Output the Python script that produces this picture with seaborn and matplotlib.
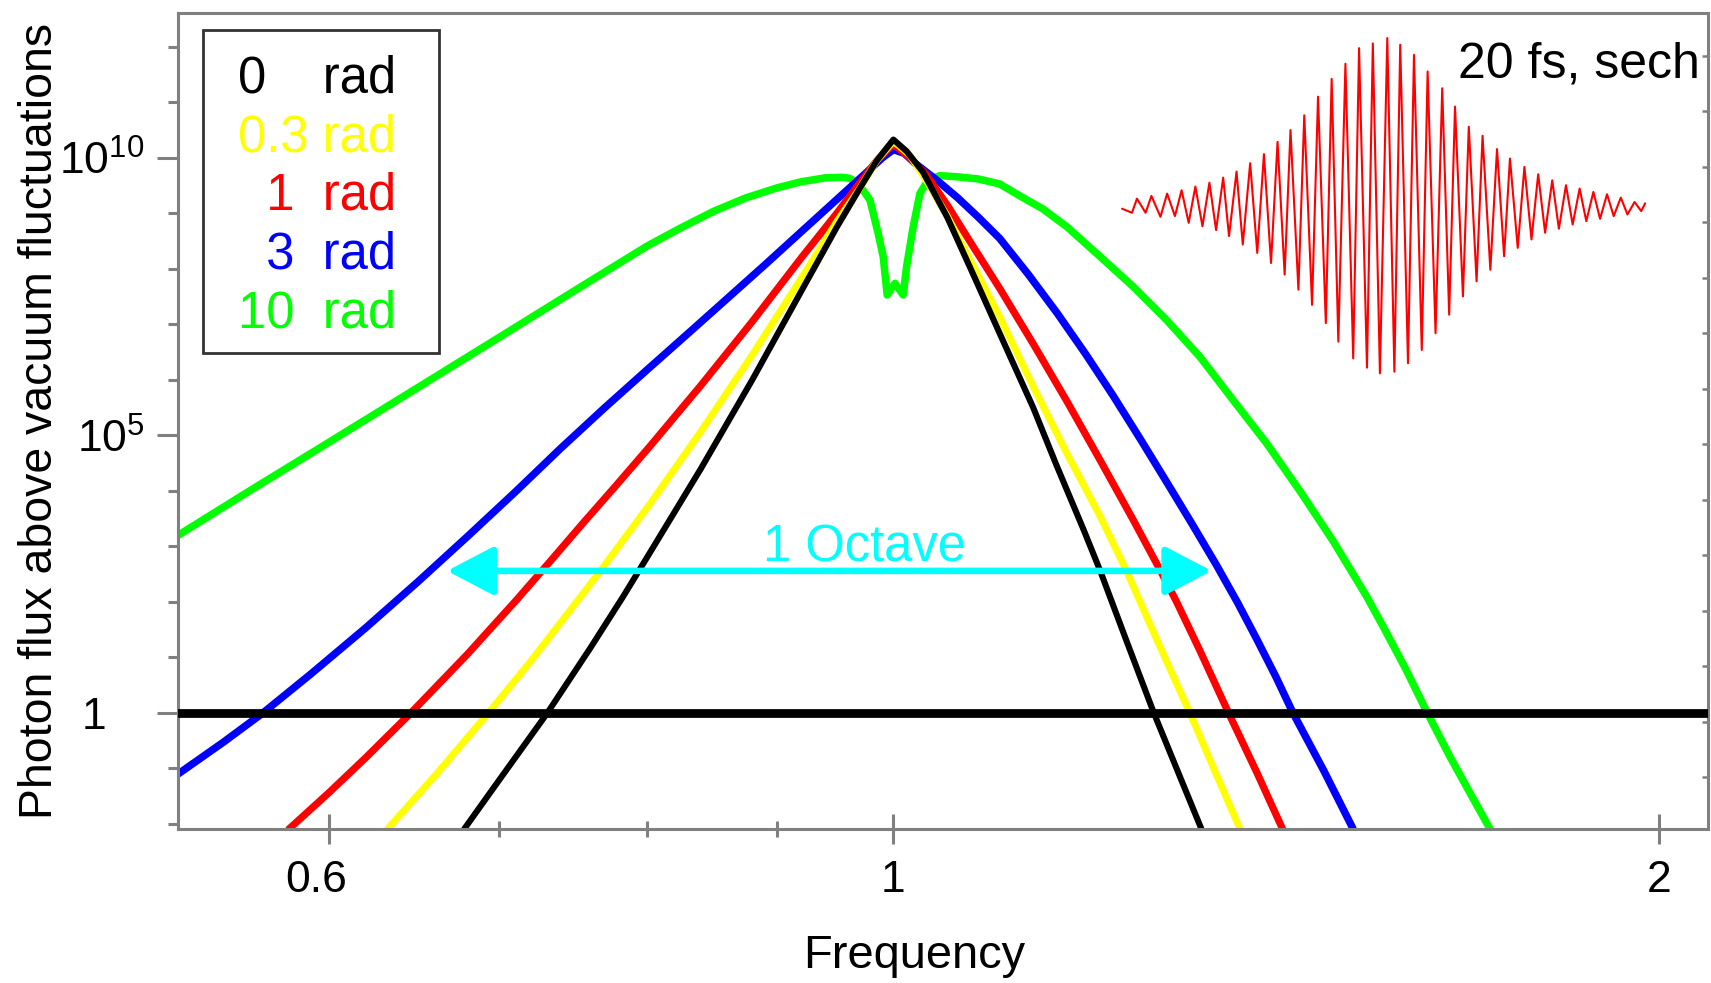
import numpy as np
import pandas as pd
import matplotlib
matplotlib.use("Agg")
import matplotlib.pyplot as plt
import matplotlib.transforms as mtransforms
import seaborn as sns
from matplotlib.lines import Line2D
from matplotlib.ticker import FixedLocator, FixedFormatter, NullFormatter, NullLocator, LogLocator

# ---------------- data ----------------
# frequency (normalised) and log10 of photon flux above vacuum fluctuations
freq_10rad = [0.5232, 0.56, 0.60, 0.65, 0.70, 0.75, 0.80, 0.825, 0.85, 0.875,
              0.90, 0.92, 0.94, 0.955, 0.9614, 0.9687, 0.979, 0.9863, 0.9908, 0.9944,
              1.0014, 1.0089, 1.012, 1.0181, 1.0243, 1.032, 1.043, 1.059, 1.08, 1.101,
              1.1247, 1.145, 1.170, 1.206, 1.2425, 1.2806, 1.3197, 1.360, 1.402, 1.445,
              1.489, 1.535, 1.558, 1.59, 1.621, 1.655, 1.687, 1.717]
lgflux_10rad = [3.2, 4.04, 4.88, 5.86, 6.77, 7.62, 8.41, 8.74, 9.04, 9.28,
                9.46, 9.57, 9.64, 9.65, 9.63, 9.54, 9.24, 8.64, 8.22, 7.53,
                7.74, 7.53, 8.04, 8.76, 9.36, 9.60, 9.68, 9.66, 9.62, 9.53,
                9.28, 9.08, 8.76, 8.22, 7.68, 7.08, 6.42, 5.64, 4.86, 4.0,
                3.1, 2.1, 1.56, 0.8, 0.02, -0.78, -1.47, -2.1]

freq_3rad = [0.5232, 0.545, 0.565, 0.59, 0.62, 0.65, 0.68, 0.71, 0.74, 0.77,
             0.80, 0.83, 0.86, 0.89, 0.92, 0.95, 0.975, 0.99, 1.0, 1.01,
             1.02, 1.04, 1.06, 1.08, 1.101, 1.13, 1.16, 1.19, 1.22, 1.25,
             1.28, 1.31, 1.34, 1.366, 1.39, 1.414, 1.436, 1.477, 1.516]
lgflux_3rad = [-1.1, -0.53, 0.0, 0.7, 1.53, 2.36, 3.18, 3.98, 4.77, 5.5,
               6.18, 6.83, 7.46, 8.07, 8.67, 9.25, 9.72, 10.0, 10.15, 10.08,
               9.9, 9.6, 9.28, 8.93, 8.55, 7.9, 7.2, 6.47, 5.72, 4.95,
               4.18, 3.42, 2.66, 1.98, 1.32, 0.65, 0.0, -1.05, -2.08]

freq_1rad = [0.5785, 0.60, 0.62, 0.646, 0.68, 0.711, 0.7325, 0.755, 0.778, 0.802,
             0.84, 0.88, 0.92, 0.95, 0.97, 0.985, 1.0, 1.015, 1.03, 1.05,
             1.075, 1.101, 1.135, 1.17, 1.206, 1.2425, 1.273, 1.2924, 1.32, 1.354,
             1.39, 1.4225]
lgflux_1rad = [-2.09, -1.43, -0.81, 0.0, 1.06, 2.04, 2.72, 3.42, 4.1, 4.8,
               5.9, 7.05, 8.2, 9.0, 9.55, 9.95, 10.25, 10.0, 9.7, 9.15,
               8.4, 7.65, 6.65, 5.62, 4.55, 3.48, 2.58, 2.0, 1.12, 0.02,
               -1.08, -2.09]

freq_03rad = [0.6325, 0.66, 0.693, 0.72, 0.7506, 0.767, 0.802, 0.84, 0.88, 0.92,
              0.95, 0.97, 0.985, 1.0, 1.015, 1.03, 1.05, 1.075, 1.101, 1.135,
              1.17, 1.206, 1.235, 1.27, 1.308, 1.338, 1.369]
lgflux_03rad = [-2.09, -1.14, 0.0, 0.93, 2.0, 2.56, 3.76, 5.07, 6.45, 7.83,
                8.85, 9.45, 9.95, 10.3, 10.05, 9.6, 8.95, 8.05, 7.14, 5.88,
                4.68, 3.54, 2.56, 1.3, 0.0, -1.05, -2.1]

freq_0rad = [0.678, 0.70, 0.731, 0.76, 0.783, 0.80, 0.84, 0.88, 0.92, 0.95,
             0.97, 0.985, 1.0, 1.012, 1.027, 1.05, 1.075, 1.101, 1.135, 1.159,
             1.188, 1.206, 1.235, 1.266, 1.295, 1.322]
lgflux_0rad = [-2.09, -1.2, 0.0, 1.17, 2.1, 2.8, 4.4, 6.0, 7.6, 8.75,
               9.45, 9.95, 10.33, 10.12, 9.75, 8.93, 7.9, 6.84, 5.5, 4.47,
               3.3, 2.56, 1.3, 0.0, -1.1, -2.1]

phase_labels = ["10 rad", "3 rad", "1 rad", "0.3 rad", "0 rad"]
phase_colors = ["#00ff00", "#0000ff", "#ff0000", "#ffff00", "#000000"]
phase_widths = [5.4, 5.4, 5.2, 5.0, 4.4]

legend_labels = ["0    rad", "0.3 rad", "  1  rad", "  3  rad", "10  rad"]
legend_colors = ["#000000", "#ffff00", "#ff0000", "#0000ff", "#00ff00"]

octave_lo, octave_hi, octave_level_lg = 0.6675, 1.334, 2.56

x_ticks = [0.6, 1, 2]
x_ticklabels = ["0.6", "1", "2"]
x_minor = [0.7, 0.8, 0.9]
y_ticks = [1.0, 1e5, 1e10]
y_ticklabels = ["1", "$10^{5}$", "$10^{10}$"]
y_minor_exp = [-2, -1, 1, 2, 3, 4, 6, 7, 8, 9, 11, 12]
right_scale_shift_lg = 0.16   # right-hand frame ticks sit 0.16 decade below the left ones

# inset pulse: extrema of the field (time in optical cycles, normalised field)
pulse_t = [-18.79, -18.08, -17.72, -17.10, -16.68, -16.03, -15.55, -14.99, -14.51, -14.00,
           -13.52, -13.01, -12.51, -12.03, -11.52, -11.10, -10.56, -10.11, -9.58, -9.07,
           -8.59, -8.08, -7.61, -7.10, -6.68, -6.11, -5.69, -5.13, -4.70, -4.14,
           -3.72, -3.24, -2.73, -2.17, -1.75, -1.18, -0.76, -0.25, 0.28, 0.79,
           1.21, 1.77, 2.20, 2.76, 3.18, 3.75, 4.23, 4.73, 5.15, 5.72,
           6.14, 6.70, 7.13, 7.69, 8.17, 8.68, 9.10, 9.66, 10.14, 10.65,
           11.13, 11.63, 12.14, 12.62, 13.13, 13.61, 14.11, 14.59, 15.10, 15.58,
           16.08, 16.56, 17.07, 17.55, 18.06, 18.54, 18.82]
pulse_e = [-0.016, -0.040, 0.044, -0.040, 0.060, -0.064, 0.074, -0.060, 0.094, -0.100,
           0.116, -0.120, 0.139, -0.143, 0.169, -0.179, 0.205, -0.229, 0.255, -0.279,
           0.309, -0.339, 0.382, -0.408, 0.452, -0.498, 0.540, -0.588, 0.651, -0.697,
           0.757, -0.807, 0.847, -0.907, 0.940, -0.962, 0.968, -0.996, 1.000, -0.986,
           0.960, -0.936, 0.900, -0.857, 0.801, -0.757, 0.701, -0.647, 0.592, -0.538,
           0.472, -0.448, 0.418, -0.379, 0.339, -0.299, 0.283, -0.249, 0.233, -0.199,
           0.189, -0.159, 0.153, -0.135, 0.124, -0.110, 0.104, -0.090, 0.084, -0.076,
           0.070, -0.060, 0.050, -0.050, 0.024, -0.030, 0.016]

# ---------------- build long table ----------------
series = [
    ("10 rad", freq_10rad, lgflux_10rad),
    ("3 rad", freq_3rad, lgflux_3rad),
    ("1 rad", freq_1rad, lgflux_1rad),
    ("0.3 rad", freq_03rad, lgflux_03rad),
    ("0 rad", freq_0rad, lgflux_0rad),
]
frames = []
for name, f, lg in series:
    frames.append(pd.DataFrame({"phase": name, "freq": f,
                                "flux": np.power(10.0, np.asarray(lg, dtype=float))}))
df = pd.concat(frames, ignore_index=True)

# ---------------- style ----------------
sns.set_style("ticks")
plt.rcParams["font.family"] = ["Liberation Sans", "DejaVu Sans"]
plt.rcParams["mathtext.fontset"] = "custom"
plt.rcParams["mathtext.rm"] = "Liberation Sans"
plt.rcParams["mathtext.it"] = "Liberation Sans:italic"
plt.rcParams["mathtext.bf"] = "Liberation Sans:bold"
plt.rcParams["text.color"] = "black"
plt.rcParams["axes.labelcolor"] = "black"

fig = plt.figure(figsize=(17.11, 9.83), dpi=100)
ax = fig.add_axes([0.10403, 0.15666, 0.89422, 0.83011])

sns.lineplot(data=df, x="freq", y="flux", hue="phase", hue_order=phase_labels,
             palette=dict(zip(phase_labels, phase_colors)), estimator=None,
             sort=False, legend=False, ax=ax)
width_by_color = {matplotlib.colors.to_hex(c): w for c, w in zip(phase_colors, phase_widths)}
for line in ax.lines:
    line.set_linewidth(width_by_color.get(matplotlib.colors.to_hex(line.get_color()), 5.0))
    line.set_solid_joinstyle("round")

ax.set_xscale("log")
ax.set_yscale("log")
ax.set_xlim(0.5232, 2.091)
ax.set_ylim(10 ** -2.09, 10 ** 12.61)

ax.axhline(1.0, color="black", linewidth=6.3, zorder=5)

# octave arrow
lvl = 10 ** octave_level_lg
ax.annotate("", xy=(octave_lo, lvl), xytext=(octave_hi, lvl),
            arrowprops=dict(arrowstyle="<|-|>,head_length=0.9,head_width=0.47",
                            color="#00ffff", lw=4.7, mutation_scale=32,
                            shrinkA=0, shrinkB=0), zorder=6)
ax.text(0.974, 10 ** 2.97, "1 Octave", color="#00ffff", fontsize=36.5,
        ha="center", va="center", zorder=6)

ax.text(0.9948, 0.937, "20 fs, sech", transform=ax.transAxes, fontsize=36,
        ha="right", va="center", color="black")

# ticks
ax.xaxis.set_major_locator(FixedLocator(x_ticks))
ax.xaxis.set_major_formatter(FixedFormatter(x_ticklabels))
ax.xaxis.set_minor_locator(FixedLocator(x_minor))
ax.xaxis.set_minor_formatter(NullFormatter())
ax.yaxis.set_major_locator(FixedLocator(y_ticks))
ax.yaxis.set_major_formatter(FixedFormatter(y_ticklabels))
ax.yaxis.set_minor_locator(FixedLocator([10.0 ** k for k in y_minor_exp]))
ax.yaxis.set_minor_formatter(NullFormatter())

gray = "#808080"
for s in ax.spines.values():
    s.set_color(gray)
    s.set_linewidth(2.2)
ax.tick_params(axis="both", which="both", color=gray, width=2.2, labelcolor="black")
ax.tick_params(axis="y", which="major", direction="out", length=15, pad=9, labelsize=32)
ax.tick_params(axis="y", which="minor", direction="out", length=7.5)
ax.tick_params(axis="x", which="major", direction="inout", length=22, pad=11, labelsize=32)
ax.tick_params(axis="x", which="minor", direction="inout", length=12)

ax.set_xlabel("Frequency", fontsize=33.8, color="black")
ax.set_ylabel("Photon flux above vacuum fluctuations", fontsize=33.4, color="black")
ax.xaxis.set_label_coords(0.481, -0.129)
ax.yaxis.set_label_coords(-0.076, 0.5)

# small inward ticks on the right-hand frame (offset scale)
ax_r = ax.twinx()
ax_r.set_yscale("log")
ax_r.set_ylim(10 ** (-2.09 + right_scale_shift_lg), 10 ** (12.61 + right_scale_shift_lg))
ax_r.yaxis.set_major_locator(LogLocator(base=10.0, numticks=30))
ax_r.yaxis.set_minor_locator(NullLocator())
ax_r.yaxis.set_major_formatter(NullFormatter())
ax_r.tick_params(axis="y", which="major", direction="in", length=4, width=1.8,
                 color=gray, labelright=False)
for s in ax_r.spines.values():
    s.set_visible(False)

# individual label offsets as in the reference
fig.canvas.draw()
t_one = ax.yaxis.get_major_ticks()[0]
t_one.label1.set_transform(t_one.label1.get_transform()
                           + mtransforms.ScaledTranslation(-0.38, 0, fig.dpi_scale_trans))
t_06 = ax.xaxis.get_major_ticks()[0]
t_06.label1.set_transform(t_06.label1.get_transform()
                          + mtransforms.ScaledTranslation(-0.13, 0, fig.dpi_scale_trans))

# legend (coloured text only)
handles = [Line2D([], [], linestyle="none") for _ in legend_labels]
leg = ax.legend(handles, legend_labels, loc="upper left", mode="expand",
                bbox_to_anchor=(0.01634, 0.5, 0.1542, 0.4786), bbox_transform=ax.transAxes,
                fontsize=36.5, handlelength=0.32, handletextpad=0.0, borderpad=0.38,
                labelspacing=0.19, frameon=True, fancybox=False, edgecolor="black",
                borderaxespad=0.0, labelcolor=legend_colors)
leg.get_frame().set_linewidth(2.0)
leg.get_frame().set_facecolor("white")
leg.set_zorder(10)
text_shift = mtransforms.ScaledTranslation(0, -0.05, fig.dpi_scale_trans)
for t in leg.get_texts():
    t.set_transform(t.get_transform() + text_shift)

# inset pulse
ax_in = fig.add_axes([0.6558, 0.6195, 0.3057, 0.3418])
ax_in.set_facecolor("none")
sns.lineplot(x=pulse_t, y=pulse_e, sort=False, estimator=None, color="#ff0000",
             linewidth=1.5, ax=ax_in)
ax_in.set_xlim(min(pulse_t), max(pulse_t))
ax_in.set_ylim(-1.0, 1.0)
for line in ax_in.lines:
    line.set_clip_on(False)
ax_in.axis("off")

fig.savefig("out.png", dpi=100)
